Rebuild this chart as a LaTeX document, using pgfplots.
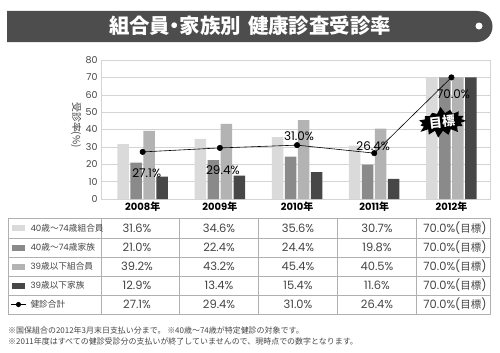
\documentclass[border=0pt]{standalone}
\usepackage{fontspec}
\setmainfont{Poppins}
\newfontfamily\jp{Noto Sans CJK JP}
\usepackage{pgfplots}
\pgfplotsset{compat=1.18}
\usetikzlibrary{shapes.symbols}
\definecolor{cA}{HTML}{DADADA}
\definecolor{cB}{HTML}{8A8A8A}
\definecolor{cC}{HTML}{B3B3B3}
\definecolor{cD}{HTML}{474747}
\definecolor{tbar}{HTML}{4D4D4D}
\definecolor{gridc}{HTML}{D4D4D4}
\definecolor{linec}{HTML}{B0B0B0}
\definecolor{txt}{HTML}{444444}
\newcommand\trow[6]{%
  \node at (137,#1) {#2};
  \node at (219,#1) {#3};
  \node at (298,#1) {#4};
  \node at (377,#1) {#5};
  \node at (455,#1) {#6};}
\begin{document}
\begin{tikzpicture}[x=1bp,y=1bp]
\useasboundingbox (0,0) rectangle (500,352);
% title bar
\fill[tbar] (7,310) -- (477,310) arc[start angle=-90,end angle=90,radius=15.5] -- (7,341) -- cycle;
\fill[white] (479,326) circle (3.5);
\node[text=white, font=\jp\bfseries\fontsize{20.5}{21}\selectfont] at (250,326) {組合員\kern-5.5bp・\kern-5.5bp家族別\hspace{7bp}健康診査受診率};

\begin{axis}[at={(101bp,153bp)}, anchor=south west, scale only axis,
  width=389bp, height=139bp,
  xmin=-0.54, xmax=4.5, ymin=0, ymax=80,
  ytick={0,10,...,80}, xtick={0,1,2,3,4},
  xticklabels={2008{\jp 年},2009{\jp 年},2010{\jp 年},2011{\jp 年},2012{\jp 年}},
  ymajorgrids, grid style={gridc, line width=0.5pt},
  axis line style={gridc, line width=0.8pt},
  major tick length=0pt,
  /pgf/number format/assume math mode=true,
  yticklabel style={font=\fontsize{9.5}{10}\selectfont, text=txt},
  xticklabel style={font=\bfseries\fontsize{10}{10}\selectfont, text=black, anchor=center, yshift=-8bp},
  clip=false]
\addplot[ybar, bar width=11.5bp, bar shift=-19.5bp, fill=cA, draw=none] coordinates {(0,31.6) (1,34.6) (2,35.6) (3,30.7) (4,70.0)};
\addplot[ybar, bar width=11.5bp, bar shift=-6.5bp, fill=cB, draw=none] coordinates {(0,21.0) (1,22.4) (2,24.4) (3,19.8) (4,70.0)};
\addplot[ybar, bar width=11.5bp, bar shift=6.5bp, fill=cC, draw=none] coordinates {(0,39.2) (1,43.2) (2,45.4) (3,40.5) (4,70.0)};
\addplot[ybar, bar width=11.5bp, bar shift=19.5bp, fill=cD, draw=none] coordinates {(0,12.9) (1,13.4) (2,15.4) (3,11.6) (4,70.0)};
\addplot[black, line width=0.6pt, mark=*, mark size=2.7pt, mark options={fill=black}] coordinates {(0,27.1) (1,29.4) (2,31.0) (3,26.4) (4,70.0)};
\node[font=\fontsize{12}{12}\selectfont, xshift=4bp, yshift=-21bp] at (axis cs:0,27.1) {27.1\%};
\node[font=\fontsize{12}{12}\selectfont, xshift=3bp, yshift=-22bp] at (axis cs:1,29.4) {29.4\%};
\node[font=\fontsize{12}{12}\selectfont, xshift=2bp, yshift=9bp] at (axis cs:2,31.0) {31.0\%};
\node[font=\fontsize{12}{12}\selectfont, xshift=-1bp, yshift=7bp] at (axis cs:3,26.4) {26.4\%};
\node[font=\fontsize{12}{12}\selectfont, xshift=2bp, yshift=-17bp] at (axis cs:4,70.0) {70.0\%};
\end{axis}

% y label
\node[rotate=-90, font=\jp\fontsize{10}{10}\selectfont, text=txt] at (76,227) {受診率(\%)};

% starburst
\node[starburst, fill=black, draw=none, minimum width=53bp, minimum height=29bp, inner sep=0pt,
  starburst points=15, starburst point height=7bp, random starburst=7,
  text=white, font=\jp\bfseries\fontsize{13}{13}\selectfont, rotate=6] at (442,230) {目標};

% table
\begin{scope}[linec, line width=0.6pt]
\draw (8,134) rectangle (490,38);
\foreach \yy in {114,95,76,57} \draw (8,\yy) -- (490,\yy);
\foreach \xx in {101,179,258,337,416} \draw (\xx,134) -- (\xx,38);
\end{scope}
\fill[cA] (12,121) rectangle (25,127);
\fill[cB] (12,101.5) rectangle (25,107.5);
\fill[cC] (12,82.5) rectangle (25,88.5);
\fill[cD] (12,63.5) rectangle (25,69.5);
\draw[black, line width=0.8pt] (11,47.5) -- (26,47.5);
\fill[black] (18.5,47.5) circle (2.6);
\begin{scope}[every node/.style={anchor=west, font=\fontsize{8.7}{9}\selectfont, text=txt}]
\node at (27,124) {40{\jp 歳〜}74{\jp 歳組合員}};
\node at (27,104.5) {40{\jp 歳〜}74{\jp 歳家族}};
\node at (27,85.5) {39{\jp 歳以下組合員}};
\node at (27,66.5) {39{\jp 歳以下家族}};
\node at (27,47.5) {{\jp 健診合計}};
\end{scope}
\begin{scope}[every node/.style={font=\fontsize{11.5}{12}\selectfont, text=txt}]
\trow{124}{31.6\%}{34.6\%}{35.6\%}{30.7\%}{70.0\%({\jp\fontsize{10.5}{11}\selectfont 目標})}
\trow{104.5}{21.0\%}{22.4\%}{24.4\%}{19.8\%}{70.0\%({\jp\fontsize{10.5}{11}\selectfont 目標})}
\trow{85.5}{39.2\%}{43.2\%}{45.4\%}{40.5\%}{70.0\%({\jp\fontsize{10.5}{11}\selectfont 目標})}
\trow{66.5}{12.9\%}{13.4\%}{15.4\%}{11.6\%}{70.0\%({\jp\fontsize{10.5}{11}\selectfont 目標})}
\trow{47.5}{27.1\%}{29.4\%}{31.0\%}{26.4\%}{70.0\%({\jp\fontsize{10.5}{11}\selectfont 目標})}
\end{scope}

% footnotes
\begin{scope}[every node/.style={anchor=west, font=\jp\fontsize{8}{9}\selectfont, text=txt, inner sep=0pt}]
\node at (8,22) {※国保組合の2012年3月末日支払い分まで。 ※40歳〜74歳が特定健診の対象です。};
\node at (8,11) {※2011年度はすべての健診受診分の支払いが終了していませんので、現時点での数字となります。};
\end{scope}
\end{tikzpicture}
\end{document}
